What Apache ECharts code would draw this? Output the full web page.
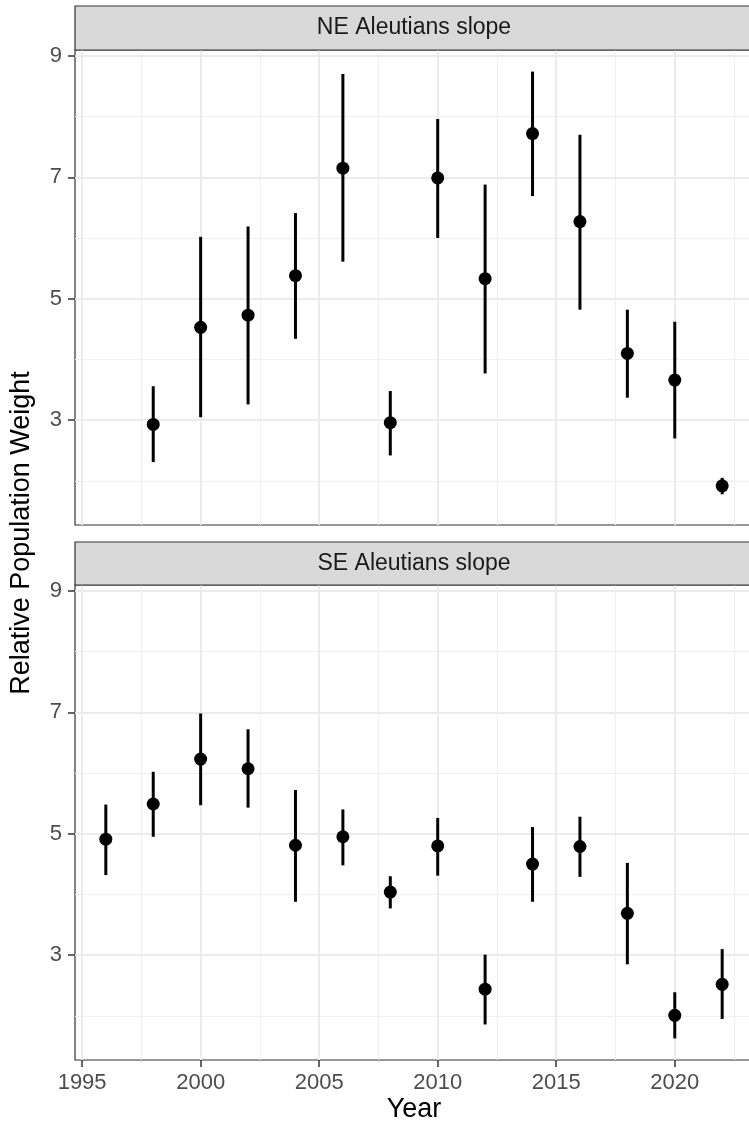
<!DOCTYPE html>
<html>
<head>
<meta charset="utf-8">
<script src="https://cdn.jsdelivr.net/npm/echarts@6/dist/echarts.min.js"></script>
<style>
  html, body { margin: 0; padding: 0; background: #fff; }
  #chart { width: 749px; height: 1127px; }
</style>
</head>
<body>
<div id="chart"></div>
<script>
const years = [1996, 1998, 2000, 2002, 2004, 2006, 2008, 2010, 2012, 2014, 2016, 2018, 2020, 2022];

// NE Aleutians slope (no 1996 survey)
const neWeight = [null, 2.93, 4.53, 4.73, 5.38, 7.15, 2.96, 6.99, 5.33, 7.72, 6.27, 4.10, 3.66, 1.92];
const neLower = [null, 2.31, 3.05, 3.26, 4.34, 5.61, 2.42, 6.00, 3.77, 6.69, 4.82, 3.37, 2.70, 1.78];
const neUpper = [null, 3.56, 6.02, 6.19, 6.41, 8.70, 3.48, 7.96, 6.88, 8.74, 7.70, 4.82, 4.62, 2.05];

// SE Aleutians slope
const seWeight = [4.91, 5.49, 6.23, 6.07, 4.81, 4.95, 4.04, 4.80, 2.44, 4.50, 4.79, 3.69, 2.01, 2.52];
const seLower = [4.32, 4.95, 5.47, 5.43, 3.88, 4.48, 3.77, 4.31, 1.86, 3.88, 4.29, 2.85, 1.63, 1.95];
const seUpper = [5.48, 6.02, 6.98, 6.72, 5.72, 5.40, 4.30, 5.26, 3.01, 5.11, 5.28, 4.52, 2.39, 3.10];

const panels = ['NE Aleutians slope', 'SE Aleutians slope'];
const xTicks = [1995, 2000, 2005, 2010, 2015, 2020];
const xMinor = [1997.5, 2002.5, 2007.5, 2012.5, 2017.5, 2022.5];
const yTicks = [3, 5, 7, 9];
const yMinor = [2, 4, 6, 8];

const font = "'Liberation Sans', Arial, sans-serif";

// ggplot-style 5% expansion
const allVals = neLower.concat(neUpper, seLower, seUpper).filter(v => v != null);
const yLo = Math.min(...allVals), yHi = Math.max(...allVals);
const yMin = yLo - (yHi - yLo) * 0.05, yMax = yHi + (yHi - yLo) * 0.05;
const xMin = years[0] - (years[years.length - 1] - years[0]) * 0.05;
const xMax = years[years.length - 1] + (years[years.length - 1] - years[0]) * 0.05;

const panelLeft = 75, panelWidth = 678, panelHeight = 475;
const panelTops = [50, 585];
const stripTops = [6, 542];

function rows(w, lo, hi) {
  return years.map((y, i) => [y, lo[i], hi[i], w[i]]).filter(r => r[3] != null);
}
const panelData = [rows(neWeight, neLower, neUpper), rows(seWeight, seLower, seUpper)];

const grids = [], xAxes = [], yAxes = [], series = [];
panelTops.forEach((top, g) => {
  grids.push({
    left: panelLeft, top: top, width: panelWidth, height: panelHeight,
    show: true, backgroundColor: '#fff', borderColor: '#333333', borderWidth: 1.2,
    containLabel: false, outerBoundsMode: 'none'
  });
  const bottomPanel = g === panelTops.length - 1;
  // major x
  xAxes.push({
    type: 'value', gridIndex: g, min: xMin, max: xMax, position: 'bottom',
    axisLine: { show: false },
    axisTick: { show: bottomPanel, customValues: xTicks, length: 7, lineStyle: { color: '#333', width: 1.5 } },
    axisLabel: {
      show: bottomPanel, customValues: xTicks, margin: 12, color: '#4D4D4D', fontSize: 22,
      fontFamily: font, formatter: v => String(v)
    },
    splitLine: { show: true, lineStyle: { color: '#EBEBEB', width: 2 } }
  });
  // minor x
  xAxes.push({
    type: 'value', gridIndex: g, min: xMin, max: xMax,
    axisLine: { show: false },
    axisTick: { show: false, customValues: xMinor },
    axisLabel: { show: false, customValues: xMinor },
    splitLine: { show: true, lineStyle: { color: '#EFEFEF', width: 1 } }
  });
  // major y
  yAxes.push({
    type: 'value', gridIndex: g, min: yMin, max: yMax,
    axisLine: { show: false },
    axisTick: { show: true, customValues: yTicks, length: 7, lineStyle: { color: '#333', width: 1.5 } },
    axisLabel: {
      show: true, customValues: yTicks, margin: 13, color: '#4D4D4D', fontSize: 22,
      fontFamily: font, formatter: v => String(v)
    },
    splitLine: { show: true, lineStyle: { color: '#EBEBEB', width: 2 } }
  });
  // minor y
  yAxes.push({
    type: 'value', gridIndex: g, min: yMin, max: yMax,
    axisLine: { show: false },
    axisTick: { show: false, customValues: yMinor },
    axisLabel: { show: false, customValues: yMinor },
    splitLine: { show: true, lineStyle: { color: '#EFEFEF', width: 1 } }
  });

  series.push({
    type: 'custom',
    name: panels[g] + ' range',
    xAxisIndex: g * 2, yAxisIndex: g * 2,
    data: panelData[g].map(r => [r[0], r[1], r[2]]),
    z: 3,
    renderItem: (params, api) => {
      const lo = api.coord([api.value(0), api.value(1)]);
      const hi = api.coord([api.value(0), api.value(2)]);
      return {
        type: 'line',
        shape: { x1: lo[0], y1: lo[1], x2: hi[0], y2: hi[1] },
        style: { stroke: '#000', lineWidth: 3 }
      };
    },
    silent: true
  });
  series.push({
    type: 'scatter',
    name: panels[g],
    xAxisIndex: g * 2, yAxisIndex: g * 2,
    data: panelData[g].map(r => [r[0], r[3]]),
    symbol: 'circle', symbolSize: 13,
    itemStyle: { color: '#000', opacity: 1 },
    z: 4,
    silent: true
  });
});

const graphics = [];
stripTops.forEach((top, g) => {
  const h = panelTops[g] - top;
  graphics.push({
    type: 'rect', z: 10,
    shape: { x: panelLeft, y: top, width: panelWidth, height: h },
    style: { fill: '#D9D9D9', stroke: '#333333', lineWidth: 1.2 }
  });
  graphics.push({
    type: 'text', z: 11,
    x: panelLeft + panelWidth / 2, y: top + h / 2,
    style: {
      text: panels[g], fill: '#1A1A1A', fontSize: 23, fontFamily: font,
      textAlign: 'center', textVerticalAlign: 'middle'
    }
  });
});
graphics.push({
  type: 'text', z: 11,
  x: 22, y: 533, rotation: Math.PI / 2,
  style: {
    text: 'Relative Population Weight', fill: '#000', fontSize: 27, fontFamily: font,
    textAlign: 'center', textVerticalAlign: 'middle'
  }
});
graphics.push({
  type: 'text', z: 11,
  x: panelLeft + panelWidth / 2, y: 1110,
  style: {
    text: 'Year', fill: '#000', fontSize: 27, fontFamily: font,
    textAlign: 'center', textVerticalAlign: 'middle'
  }
});

const chart = echarts.init(document.getElementById('chart'), null, { renderer: 'canvas' });
chart.setOption({
  backgroundColor: '#fff',
  animation: false,
  grid: grids,
  xAxis: xAxes,
  yAxis: yAxes,
  series: series,
  graphic: graphics
});
</script>
</body>
</html>
